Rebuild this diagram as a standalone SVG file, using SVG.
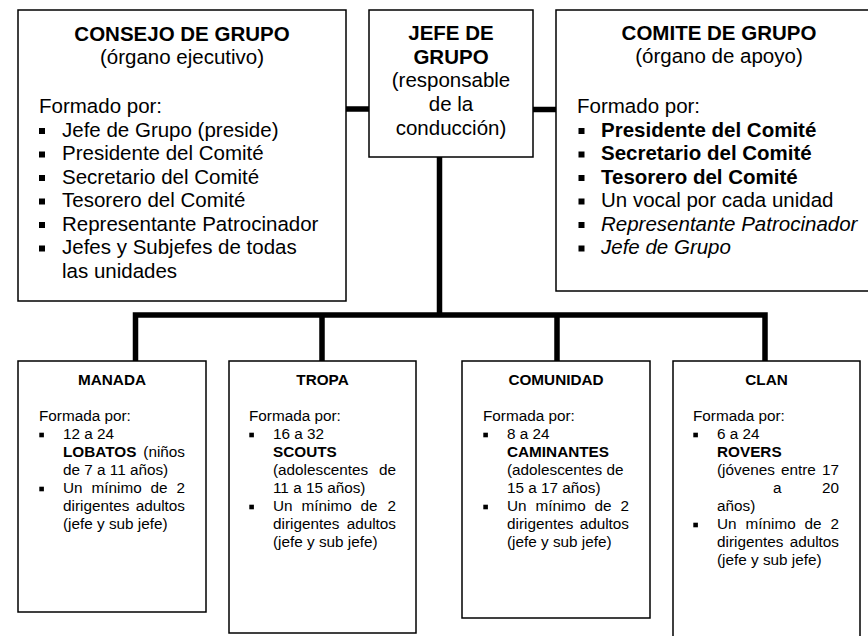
<svg xmlns="http://www.w3.org/2000/svg" width="868" height="636" viewBox="0 0 868 636">
<style>
text{font-family:"Liberation Sans",Arial,sans-serif;fill:#000}
.t{font-size:20.5px}
.s{font-size:15.3px}
.b{font-weight:bold}
.i{font-style:italic}
.c{text-anchor:middle}
.e{text-anchor:end}
.box{fill:#fff;stroke:#000;stroke-width:1.5}
.con{fill:none;stroke:#000;stroke-width:5.5;stroke-linejoin:miter;stroke-linecap:butt}
</style>
<defs>
<rect id="bl" width="6" height="6" fill="#000"/>
<rect id="bs" width="4.6" height="4.6" fill="#000"/>
</defs>
<rect width="868" height="636" fill="#fff"/>

<g id="connectors">
<path class="con" d="M346 109 H369 M533 109.5 H556 M439.5 157 V315"/>
<path class="con" d="M135.5 361 V315 H765 V361 M322 315 V361 M557 315 V361"/>
</g>

<g id="consejo">
<rect class="box" x="18" y="10" width="328" height="291"/>
<text class="t b c" x="182" y="41">CONSEJO DE GRUPO</text>
<text class="t c" x="182" y="63.5">(órgano ejecutivo)</text>
<text class="t" x="39" y="113">Formado por:</text>
<use href="#bl" x="39" y="128"/><text class="t" x="62" y="136.5">Jefe de Grupo (preside)</text>
<use href="#bl" x="39" y="151.5"/><text class="t" x="62" y="160">Presidente del Comité</text>
<use href="#bl" x="39" y="175"/><text class="t" x="62" y="183.5">Secretario del Comité</text>
<use href="#bl" x="39" y="198.5"/><text class="t" x="62" y="207">Tesorero del Comité</text>
<use href="#bl" x="39" y="222"/><text class="t" x="62" y="230.5">Representante Patrocinador</text>
<use href="#bl" x="39" y="245.5"/><text class="t" x="62" y="254">Jefes y Subjefes de todas</text>
<text class="t" x="62" y="277.5">las unidades</text>
</g>

<g id="jefe">
<rect class="box" x="369" y="10" width="164" height="147"/>
<text class="t b c" x="451" y="40">JEFE DE</text>
<text class="t b c" x="451" y="63.7">GRUPO</text>
<text class="t c" x="451" y="87.4">(responsable</text>
<text class="t c" x="451" y="111">de la</text>
<text class="t c" x="451" y="134.8">conducción)</text>
</g>

<g id="comite">
<rect class="box" x="556" y="10" width="330" height="281"/>
<text class="t b c" x="719" y="40">COMITE DE GRUPO</text>
<text class="t c" x="719" y="63">(órgano de apoyo)</text>
<text class="t" x="577" y="113">Formado por:</text>
<use href="#bl" x="578.5" y="128"/><text class="t b" x="601" y="136.5">Presidente del Comité</text>
<use href="#bl" x="578.5" y="151.5"/><text class="t b" x="601" y="160">Secretario del Comité</text>
<use href="#bl" x="578.5" y="175"/><text class="t b" x="601" y="183.5">Tesorero del Comité</text>
<use href="#bl" x="578.5" y="198.5"/><text class="t" x="601" y="207">Un vocal por cada unidad</text>
<use href="#bl" x="578.5" y="222"/><text class="t i" x="601" y="230.5">Representante Patrocinador</text>
<use href="#bl" x="578.5" y="245.5"/><text class="t i" x="601" y="254">Jefe de Grupo</text>
</g>

<g id="manada">
<rect class="box" x="18" y="361" width="188" height="251"/>
<text class="s b c" x="112" y="385">MANADA</text>
<text class="s" x="39" y="421">Formada por:</text>
<use href="#bs" x="39.3" y="432.7"/><text class="s" x="63" y="438.5">12 a 24</text>
<text class="s b" x="63" y="456.5">LOBATOS</text><text class="s e" x="185" y="456.5">(niños</text>
<text class="s" x="63" y="474.5">de 7 a 11 años)</text>
<use href="#bs" x="39.3" y="486.7"/><text class="s" x="63" y="492.5">Un</text><text class="s" x="91.5" y="492.5">mínimo</text><text class="s" x="150.6" y="492.5">de</text><text class="s e" x="185" y="492.5">2</text>
<text class="s" x="63" y="510.5">dirigentes</text><text class="s e" x="185" y="510.5">adultos</text>
<text class="s" x="63" y="528.5">(jefe y sub jefe)</text>
</g>

<g id="tropa">
<rect class="box" x="229" y="361" width="187" height="272"/>
<text class="s b c" x="322.5" y="385">TROPA</text>
<text class="s" x="249" y="421">Formada por:</text>
<use href="#bs" x="249.3" y="432.7"/><text class="s" x="273" y="438.5">16 a 32</text>
<text class="s b" x="273" y="456.5">SCOUTS</text>
<text class="s" x="273" y="474.5">(adolescentes</text><text class="s e" x="396" y="474.5">de</text>
<text class="s" x="273" y="492.5">11 a 15 años)</text>
<use href="#bs" x="249.3" y="504.7"/><text class="s" x="273" y="510.5">Un</text><text class="s" x="301.5" y="510.5">mínimo</text><text class="s" x="360.6" y="510.5">de</text><text class="s e" x="396" y="510.5">2</text>
<text class="s" x="273" y="528.5">dirigentes</text><text class="s e" x="396" y="528.5">adultos</text>
<text class="s" x="273" y="546.5">(jefe y sub jefe)</text>
</g>

<g id="comunidad">
<rect class="box" x="462" y="361" width="188" height="257"/>
<text class="s b c" x="556" y="385">COMUNIDAD</text>
<text class="s" x="483" y="421">Formada por:</text>
<use href="#bs" x="483.3" y="432.7"/><text class="s" x="507" y="438.5">8 a 24</text>
<text class="s b" x="507" y="456.5">CAMINANTES</text>
<text class="s" x="507" y="474.5">(adolescentes de</text>
<text class="s" x="507" y="492.5">15 a 17 años)</text>
<use href="#bs" x="483.3" y="504.7"/><text class="s" x="507" y="510.5">Un</text><text class="s" x="535.5" y="510.5">mínimo</text><text class="s" x="594.6" y="510.5">de</text><text class="s e" x="629" y="510.5">2</text>
<text class="s" x="507" y="528.5">dirigentes</text><text class="s e" x="629" y="528.5">adultos</text>
<text class="s" x="507" y="546.5">(jefe y sub jefe)</text>
</g>

<g id="clan">
<rect class="box" x="673" y="361" width="187" height="290"/>
<text class="s b c" x="766.5" y="385">CLAN</text>
<text class="s" x="693" y="421">Formada por:</text>
<use href="#bs" x="693.3" y="432.7"/><text class="s" x="717" y="438.5">6 a 24</text>
<text class="s b" x="717" y="456.5">ROVERS</text>
<text class="s" x="717" y="474.5">(jóvenes</text><text class="s" x="781" y="474.5">entre</text><text class="s e" x="839" y="474.5">17</text>
<text class="s" x="773" y="492.5">a</text><text class="s e" x="839" y="492.5">20</text>
<text class="s" x="717" y="510.5">años)</text>
<use href="#bs" x="693.3" y="522.7"/><text class="s" x="717" y="528.5">Un</text><text class="s" x="745.5" y="528.5">mínimo</text><text class="s" x="804.6" y="528.5">de</text><text class="s e" x="839" y="528.5">2</text>
<text class="s" x="717" y="546.5">dirigentes</text><text class="s e" x="839" y="546.5">adultos</text>
<text class="s" x="717" y="564.5">(jefe y sub jefe)</text>
</g>
</svg>
